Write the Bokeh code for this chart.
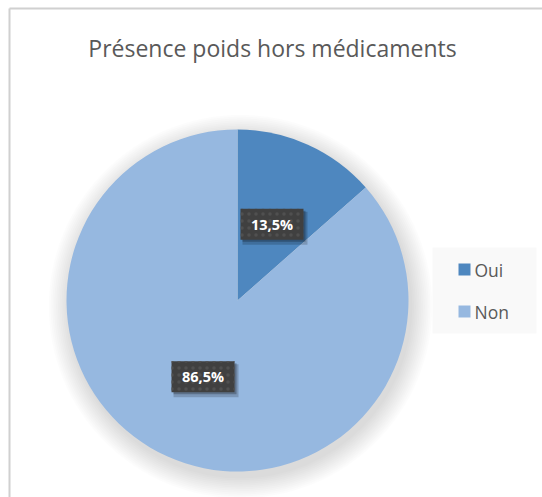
import numpy as np
from bokeh.plotting import figure
from bokeh.models import Range1d, ColumnDataSource
from bokeh.embed import file_html
from bokeh.resources import INLINE
from bokeh.core.properties import value

# ---- data ----
categories = ["Oui", "Non"]
percentages = [13.5, 86.5]
colors = ["#4e87bf", "#96b8e0"]
title_text = "Présence poids hors médicaments"

# ---- layout (page pixels) ----
W, H = 542, 497
OX, OY = 0, 0
CX, CY, R = 237, 300, 171
FONT = "Open Sans"

p = figure(width=W, height=H, output_backend="svg", toolbar_location=None,
           x_range=Range1d(OX, OX + W), y_range=Range1d(-(OY + H), -OY),
           min_border=0)
p.axis.visible = False
p.grid.visible = False
p.outline_line_color = None
p.background_fill_color = "white"
p.border_fill_color = "white"

def Y(py):
    return -py

# chart border (left & top visible)
p.segment(x0=[9, 9], y0=[Y(8), Y(8)], x1=[9, OX + W + 5], y1=[Y(OY + H + 5), Y(8)],
          line_color="#d0d0d0", line_width=2)

# title
p.text(x=[272], y=[Y(47)], text=[title_text], text_font=value(FONT),
       text_font_size="23px", text_color="#595959",
       text_align="center", text_baseline="middle")

# pie shadow
for i in range(12):
    p.circle(x=[CX + 3], y=[Y(CY + 6)], radius=R + 1 + i * 1.8,
             fill_color="black", fill_alpha=0.012, line_color=None)

# pie wedges
fr = np.array(percentages) / sum(percentages)
cum = np.cumsum(fr)
prev = np.concatenate([[0], cum[:-1]])
starts = np.pi / 2 - 2 * np.pi * prev
ends = np.pi / 2 - 2 * np.pi * cum
src = ColumnDataSource(dict(start=starts, end=ends, color=colors, cat=categories))
p.wedge(x=CX, y=Y(CY), radius=R, start_angle="start", end_angle="end",
        direction="clock", fill_color="color", line_color=None, source=src)

# data labels
mids = (starts + ends) / 2
lr = 0.49 * R
lx = CX + lr * np.cos(mids)
ly = Y(CY) + lr * np.sin(mids)
labels = [f"{v:.1f}%".replace(".", ",") for v in percentages]
bw, bh = 63, 31
p.rect(x=lx + 3, y=ly - 4, width=bw + 2, height=bh + 2, fill_color="black",
       fill_alpha=0.18, line_color=None)
p.rect(x=lx + 2, y=ly - 2, width=bw, height=bh, fill_color="black",
       fill_alpha=0.25, line_color=None)
p.rect(x=lx, y=ly, width=bw, height=bh, fill_color="#404040", line_color=None,
       hatch_pattern="dot", hatch_color="#505050", hatch_scale=7, hatch_weight=1)
p.text(x=lx, y=ly, text=labels, text_font=value(FONT), text_font_style="bold",
       text_font_size="14.5px", text_color="white",
       text_align="center", text_baseline="middle")

# legend
p.rect(x=[484], y=[Y(290)], width=104, height=86, fill_color="#f9f9f9",
       line_color=None)
leg_y = [Y(269), Y(311)]
p.rect(x=[464, 464], y=leg_y, width=12, height=12, fill_color=colors,
       line_color=None)
p.text(x=[474, 474], y=leg_y, text=categories, text_font=value(FONT),
       text_font_size="17.5px", text_color="#595959",
       text_align="left", text_baseline="middle")

open("out.html", "w").write(file_html(p, INLINE))
